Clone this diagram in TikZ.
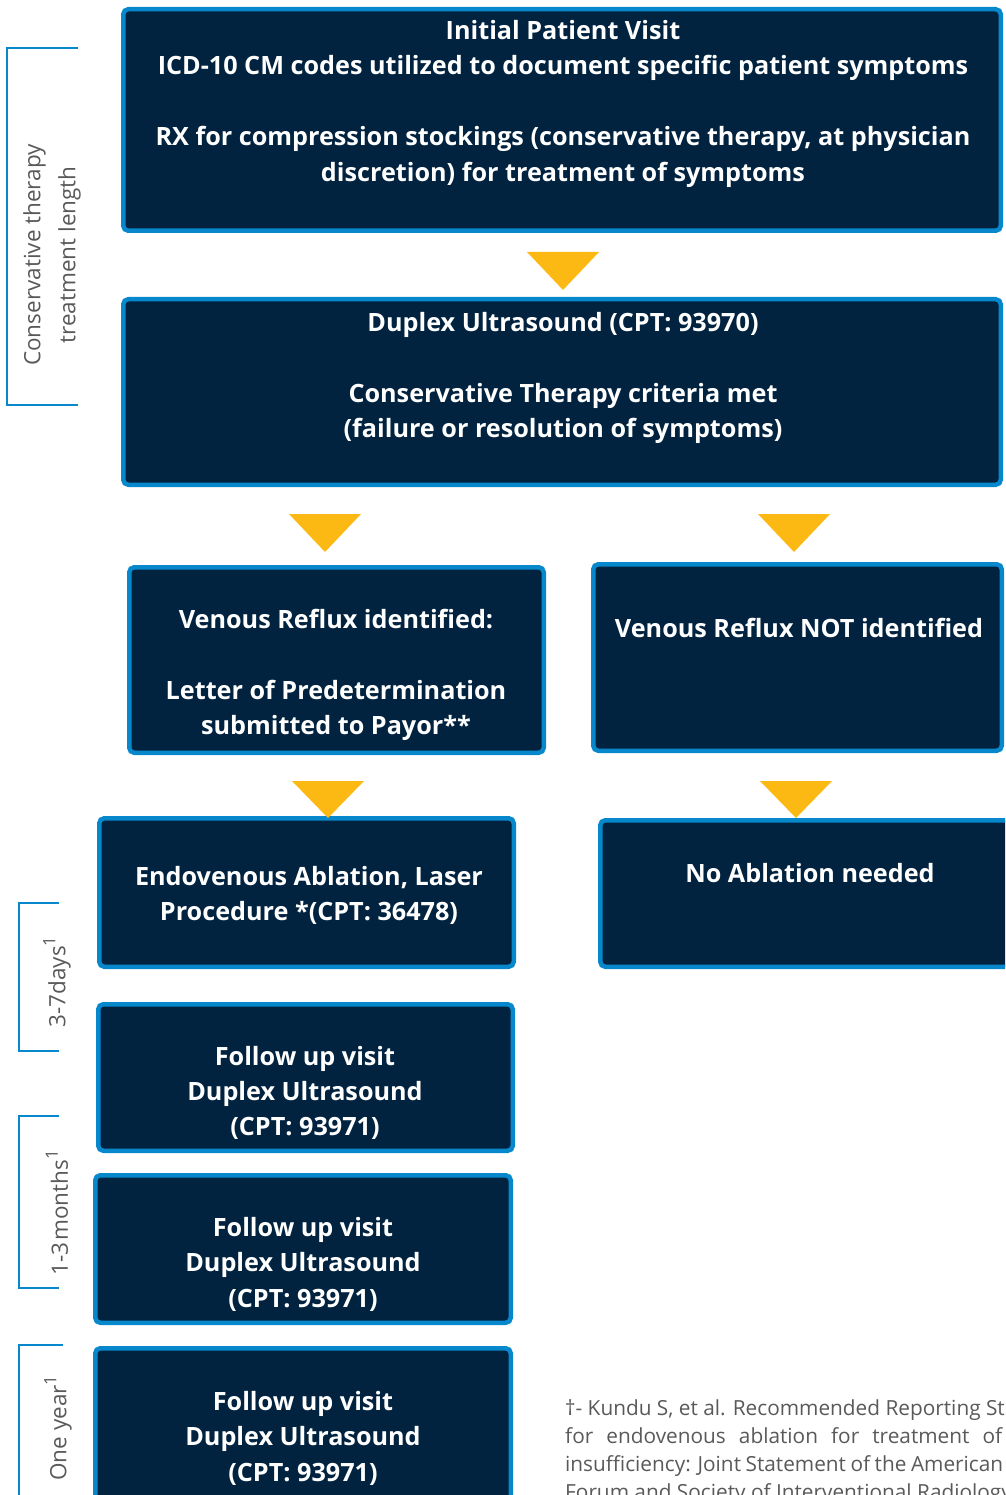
\documentclass[tikz,border=0pt]{standalone}
\usepackage{fontspec}
\setmainfont{Open Sans}
\definecolor{navy}{RGB}{1,35,64}
\definecolor{bblue}{RGB}{8,136,204}
\definecolor{ygold}{RGB}{253,185,19}
\definecolor{gtext}{RGB}{89,89,89}
\newcommand\mkbox[5]{\node[box, anchor=north west, minimum width={#4-#2-4.5}, minimum height={#5-#3-4.5}] (#1) at (#2,#3) {};}
\newcommand\tline[4]{\node[btxt] (#1) at (#2,{#3+9}) {#4};}
\newcommand\mktri[4]{\fill[tri] ({#2-36},#3) -- ({#2+36},#3) -- (#2,#4) -- cycle; \coordinate (#1) at (#2,#4);}
\newcommand\supone{\raisebox{10pt}{\fontsize{17}{17}\selectfont 1}}
\begin{document}
\begin{tikzpicture}[x=1pt,y=-1pt,
 box/.style={draw=bblue, fill=navy, line width=4.5pt, rounded corners=5pt},
 btxt/.style={text=white, font=\fontsize{25.2}{35}\selectfont\bfseries, anchor=base, inner sep=0pt},
 tri/.style={fill=ygold},
 brk/.style={draw=bblue, line width=2pt},
 side/.style={text=gtext, font=\fontsize{22.5}{35}\selectfont, rotate=90, align=center, inner sep=0pt},
 fn/.style={text=gtext, font=\fontsize{20.8}{28}\selectfont, anchor=base west, inner sep=0pt}]
\useasboundingbox (0,0) rectangle (1005,1495);
\clip (0,0) rectangle (1005,1495);
% boxes
\mkbox{b1}{121}{7}{1003}{233}
\mkbox{b2}{121}{297}{1003}{487}
\mkbox{b3}{127}{565}{546}{755}
\mkbox{b4}{591}{562}{1004}{753}
\mkbox{b5}{97}{816}{516}{969}
\mkbox{b6}{598}{818}{1040}{969}
\mkbox{b7}{96}{1002}{515}{1153}
\mkbox{b8}{93}{1173}{513}{1325}
\mkbox{b9}{93}{1346}{513}{1545}
% triangles
\mktri{a1}{563}{252}{290}
\mktri{a2}{325}{514}{552}
\mktri{a3}{794}{514}{552}
\mktri{a4}{328}{781}{818}
\mktri{a5}{796}{781}{818}
% box texts
\tline{t11}{563}{31}{Initial Patient Visit}
\tline{t12}{563}{66}{ICD-10 CM codes utilized to document specific patient symptoms}
\tline{t13}{563}{137}{RX for compression stockings (conservative therapy, at physician}
\tline{t14}{563}{173}{discretion) for treatment of symptoms}
\tline{t21}{563}{322}{Duplex Ultrasound (CPT: 93970)}
\tline{t22}{563}{393}{Conservative Therapy criteria met}
\tline{t23}{563}{428}{(failure or resolution of symptoms)}
\tline{t31}{336}{619}{Venous Reflux identified:}
\tline{t32}{336}{690}{Letter of Predetermination}
\tline{t33}{336}{725}{submitted to Payor**}
\tline{t41}{799}{628}{Venous Reflux NOT identified}
\tline{t51}{309}{876}{Endovenous Ablation, Laser}
\tline{t52}{309}{911}{Procedure *(CPT: 36478)}
\tline{t61}{810}{873}{No Ablation needed}
\tline{t71}{305}{1056}{Follow up visit}
\tline{t72}{305}{1091}{Duplex Ultrasound}
\tline{t73}{305}{1126}{(CPT: 93971)}
\tline{t81}{303}{1227}{Follow up visit}
\tline{t82}{303}{1262}{Duplex Ultrasound}
\tline{t83}{303}{1298}{(CPT: 93971)}
\tline{t91}{303}{1401}{Follow up visit}
\tline{t92}{303}{1436}{Duplex Ultrasound}
\tline{t93}{303}{1472}{(CPT: 93971)}
% brackets
\draw[brk] (78,48) -- (7,48) -- (7,405) -- (78,405);
\draw[brk] (59,903) -- (19,903) -- (19,1051) -- (59,1051);
\draw[brk] (59,1116) -- (19,1116) -- (19,1288) -- (59,1288);
\draw[brk] (63,1345) -- (19,1345) -- (19,1510);
\begin{scope}
\clip (0,40) rectangle (80,420);
\node[side] (s1) at (52,255) {Conservative therapy\\treatment length};
\end{scope}
\node[side] (s2) at (57,982) {3-7days\supone};
\node[side] (s3) at (57,1213) {1-3\hspace{2pt}months\supone};
\node[side] (s4) at (58,1428) {One year\supone};
% footnote
\node[fn] (f1) at (565,1415) {†- Kundu S, et al. Recommended Reporting St};
\node[fn] (f2) at (565,1443) {\makebox[437pt][s]{for endovenous ablation for treatment of}};
\node[fn] (f3) at (565,1471) {\makebox[438pt][s]{insufficiency: Joint Statement of the American}};
\node[fn] (f4) at (565,1499) {Forum and Society of Interventional Radiology};
\end{tikzpicture}
\end{document}
